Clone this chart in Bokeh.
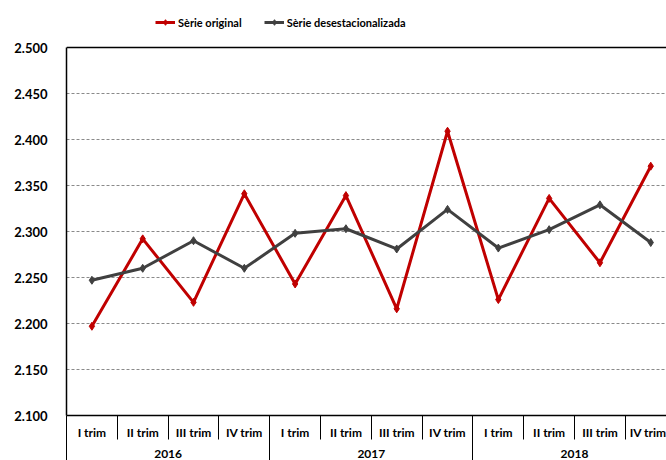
from bokeh.plotting import figure
from bokeh.models import (ColumnDataSource, Range1d, FixedTicker, LinearAxis, Legend,
                          LegendItem, Span)
from bokeh.embed import file_html
from bokeh.resources import INLINE

years = ["2016", "2017", "2018"]
quarters = ["I trim", "II trim", "III trim", "IV trim"]
original = [2197, 2292, 2223, 2341, 2243, 2339, 2216, 2409, 2226, 2336, 2266, 2371]
desest = [2247, 2260, 2290, 2260, 2298, 2303, 2281, 2324, 2282, 2302, 2329, 2288]
y_ticks = [2100, 2150, 2200, 2250, 2300, 2350, 2400, 2450, 2500]

RED = "#C00000"
DARK = "#404040"
FONT = "Lato"

n = len(original)
xs = [i + 0.5 for i in range(n)]
src = ColumnDataSource(dict(x=xs, orig=original, des=desest))

# frame runs from the top of the canvas; the extra space above 2.500 holds the legend
y_lo, y_hi = y_ticks[0], y_ticks[-1]
y_top = y_hi + 47 * (y_hi - y_lo) / 368

p = figure(width=666, height=460, output_backend="svg", toolbar_location=None,
           x_range=Range1d(0, 11.81), y_range=Range1d(y_lo, y_top),
           min_border_left=66, min_border_right=0, min_border_top=0,
           min_border_bottom=45)
p.outline_line_color = None
p.background_fill_color = "white"
p.border_fill_color = "white"

r1 = p.line("x", "orig", source=src, color=RED, line_width=3)
m1 = p.scatter("x", "orig", source=src, marker="diamond", size=8, color=RED)
r2 = p.line("x", "des", source=src, color=DARK, line_width=3)
m2 = p.scatter("x", "des", source=src, marker="diamond", size=8, color=DARK)

# top border of plot area
p.add_layout(Span(location=y_hi, dimension="width", line_color="black", line_width=1.5))

# y axis
yax = p.yaxis[0]
yax.bounds = (y_lo, y_hi)
yax.ticker = FixedTicker(ticks=y_ticks)
yax.major_label_overrides = {t: f"{t // 1000}.{t % 1000:03d}" for t in y_ticks}
yax.major_tick_out = 0
yax.major_tick_in = 0
yax.minor_tick_out = 0
yax.minor_tick_in = 0
yax.axis_line_color = "black"
yax.axis_line_width = 1.5
yax.major_label_standoff = 19
yax.major_label_text_font = FONT
yax.major_label_text_font_style = "bold"
yax.major_label_text_font_size = "13px"
yax.major_label_text_color = "black"

p.ygrid.ticker = FixedTicker(ticks=y_ticks[1:-1])
p.ygrid.grid_line_color = "#8a8a8a"
p.ygrid.grid_line_dash = "3 2"
p.ygrid.grid_line_width = 1
p.xgrid.visible = False

# x axis: quarters
q_labels = [quarters[i % 4] for i in range(n)]
xax = p.xaxis[0]
xax.ticker = FixedTicker(ticks=xs, minor_ticks=list(range(n + 1)))
xax.major_label_overrides = {x: lab for x, lab in zip(xs, q_labels)}
xax.major_tick_out = 0
xax.major_tick_in = 0
xax.minor_tick_out = 24
xax.minor_tick_in = 0
xax.minor_tick_line_color = "black"
xax.minor_tick_line_width = 1
xax.axis_line_color = "black"
xax.axis_line_width = 1.5
xax.major_label_standoff = -15
xax.major_label_text_font = FONT
xax.major_label_text_font_style = "bold"
xax.major_label_text_font_size = "12px"
xax.major_label_text_color = "black"

# x axis: years
yr_ticks = [2 + 4 * i for i in range(len(years))]
xax2 = LinearAxis(ticker=FixedTicker(ticks=yr_ticks, minor_ticks=[4 * i for i in range(len(years) + 1)]))
xax2.major_label_overrides = {float(t): y for t, y in zip(yr_ticks, years)}
xax2.axis_line_color = None
xax2.major_tick_out = 0
xax2.major_tick_in = 0
xax2.minor_tick_in = 26
xax2.minor_tick_out = 22
xax2.minor_tick_line_color = "black"
xax2.minor_tick_line_width = 1
xax2.major_label_standoff = -15
xax2.major_label_text_font = FONT
xax2.major_label_text_font_style = "bold"
xax2.major_label_text_font_size = "12px"
xax2.major_label_text_color = "black"
p.add_layout(xax2, "below")

legend = Legend(items=[LegendItem(label="Sèrie original", renderers=[r1, m1]),
                       LegendItem(label="Sèrie desestacionalizada", renderers=[r2, m2])],
                orientation="horizontal", location=(89, 386),
                glyph_width=20, glyph_height=14, label_standoff=3, spacing=22,
                padding=2, margin=0,
                label_text_font=FONT, label_text_font_style="bold",
                label_text_font_size="11px", label_text_color="black",
                background_fill_alpha=0, border_line_color=None)
p.add_layout(legend, "center")

open("out.html", "w").write(file_html(p, INLINE))
